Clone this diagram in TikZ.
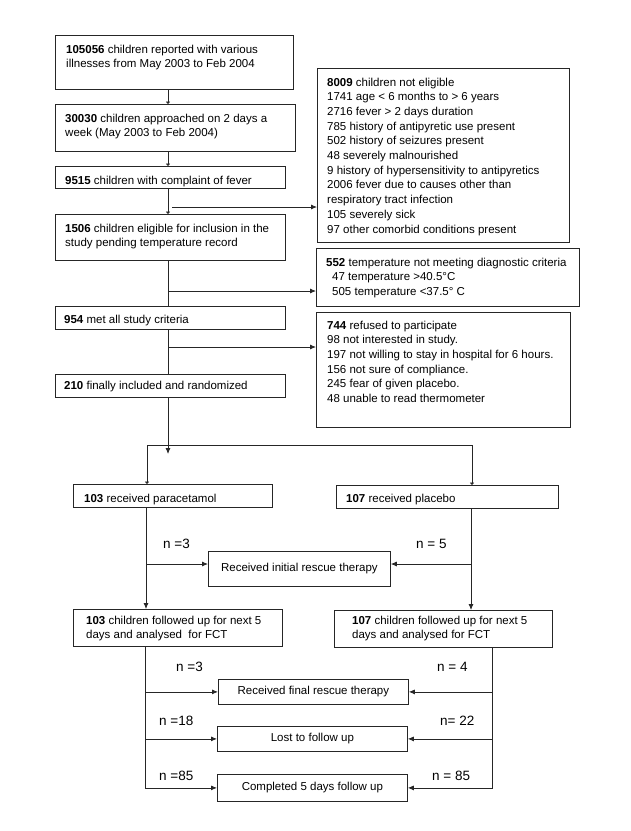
\documentclass[tikz,border=0pt]{standalone}
\usepackage{fontspec}
\setmainfont{Liberation Sans}
\usetikzlibrary{arrows.meta}
\begin{document}
\begin{tikzpicture}[x=1pt,y=-1pt,
  box/.style={draw=black!85, line width=0.8pt, inner sep=0pt, anchor=north west},
  cbox/.style={draw=black!85, line width=0.8pt, inner sep=0pt, anchor=north west, font=\fontsize{11.5}{14.7}\selectfont},
  txt/.style={inner sep=0pt, anchor=base west, align=left, font=\fontsize{11.5}{14.7}\selectfont},
  lab/.style={inner sep=0pt, anchor=base west, font=\fontsize{13.5}{16}\selectfont},
  ln/.style={draw=black!85, line width=0.8pt},
  tick/.style={ln, -{Latex[length=2.5pt,width=5pt]}},
  arr/.style={ln, -{Latex[length=6pt,width=5pt]}}]
\useasboundingbox (0,0) rectangle (631,831);
\fill[white] (0,0) rectangle (631,831);
% left column boxes
\node[box, minimum width=238, minimum height=54] (b1) at (55,35) {};
\node[box, minimum width=240, minimum height=47] (b2) at (55,104) {};
\node[box, minimum width=230, minimum height=22] (b3) at (55,166) {};
\node[box, minimum width=230, minimum height=46] (b4) at (55,214) {};
\node[box, minimum width=230, minimum height=23] (b5) at (55,306) {};
\node[box, minimum width=230, minimum height=23] (b6) at (55,374) {};
% right column boxes
\node[box, minimum width=252, minimum height=174] (ra) at (317,68) {};
\node[box, minimum width=263, minimum height=58] (rb) at (316,248) {};
\node[box, minimum width=254, minimum height=115] (rc) at (316,312) {};
% arms
\node[box, minimum width=199, minimum height=23] (P) at (73,484) {};
\node[box, minimum width=222, minimum height=23] (Q) at (336,485) {};
\node[cbox, minimum width=182, minimum height=35] (ri) at (208,551) {Received initial rescue therapy};
\node[box, minimum width=209, minimum height=37] (F1) at (73,609) {};
\node[box, minimum width=218, minimum height=37] (F2) at (334,610) {};
\node[cbox, minimum width=190, minimum height=25] (rf) at (218,679) {Received final rescue therapy};
\node[cbox, minimum width=190, minimum height=25] (rl) at (217,726) {Lost to follow up};
\node[cbox, minimum width=190, minimum height=27] (rd) at (217,774) {Completed 5 days follow up};
% texts (anchor = baseline of the last line)
\node[txt] (t1) at (66,67.7) {\textbf{105056} children reported with various\\illnesses from May 2003 to Feb 2004};
\node[txt] (t2) at (65,136.7) {\textbf{30030} children approached on 2 days a\\week (May 2003 to Feb 2004)};
\node[txt] (t3) at (65,184) {\textbf{9515} children with complaint of fever};
\node[txt] (t4) at (65,246.7) {\textbf{1506} children eligible for inclusion in the\\study pending temperature record};
\node[txt] (t5) at (64,323) {\textbf{954} met all study criteria};
\node[txt] (t6) at (64,389) {\textbf{210} finally included and randomized};
\node[txt] (ta) at (327,233) {\textbf{8009} children not eligible\\1741 age < 6 months to > 6 years\\2716 fever > 2 days duration\\785 history of antipyretic use present\\502 history of seizures present\\48 severely malnourished\\9 history of hypersensitivity to antipyretics\\2006 fever due to causes other than\\respiratory tract infection\\105 severely sick\\97 other comorbid conditions present};
\node[txt] (tb) at (326,295.4) {\textbf{552} temperature not meeting diagnostic criteria\\\hspace*{6pt}47 temperature >40.5°C\\\hspace*{6pt}505 temperature <37.5° C};
\node[txt] (tc) at (327,402.5) {\textbf{744} refused to participate\\98 not interested in study.\\197 not willing to stay in hospital for 6 hours.\\156 not sure of compliance.\\245 fear of given placebo.\\48 unable to read thermometer};
\node[txt] (tp) at (84,502) {\textbf{103} received paracetamol};
\node[txt] (tq) at (346,502) {\textbf{107} received placebo};
\node[txt] (tf1) at (86,638.7) {\textbf{103} children followed up for next 5\\days and analysed\ \ for FCT};
\node[txt] (tf2) at (352,638.7) {\textbf{107} children followed up for next 5\\days and analysed for FCT};
% labels
\node[lab] (n1) at (163,548) {n =3};
\node[lab] (n2) at (416,548) {n = 5};
\node[lab] (n3) at (176,671) {n =3};
\node[lab] (n4) at (437,671) {n = 4};
\node[lab] (n5) at (159,725) {n =18};
\node[lab] (n6) at (440,725) {n= 22};
\node[lab] (n7) at (159,780) {n =85};
\node[lab] (n8) at (432,780) {n = 85};
% trunk
\coordinate (T) at (168,0);
\draw[tick] (b1.south -| T) -- (b2.north -| T);
\draw[tick] (b2.south -| T) -- (b3.north -| T);
\draw[tick] (b3.south -| T) -- (b4.north -| T);
\coordinate (ca) at (172,207);
\draw[arr] (ca) -- (ca -| ra.west);
\draw[ln] (b4.south -| T) -- (b5.north -| T);
\coordinate (cb) at (168,291);
\draw[arr] (cb) -- (cb -| rb.west);
\draw[ln] (b5.south -| T) -- (b6.north -| T);
\coordinate (cc) at (168,347);
\draw[arr] (cc) -- (cc -| rc.west);
\coordinate (tend) at (168,454);
\draw[arr] (b6.south -| T) -- (tend);
% split
\coordinate (sL) at (147,445);
\coordinate (sR) at (472,445);
\draw[ln] (sL) -- (sR);
\draw[tick] (sL) -- (sL |- P.north);
\draw[tick] (sR) -- (sR |- Q.north);
% upper lanes
\coordinate (L1) at (146,0);
\coordinate (R1) at (471,0);
\draw[arr] (P.south -| L1) -- (F1.north -| L1);
\draw[arr] (Q.south -| R1) -- (F2.north -| R1);
\coordinate (ci) at (0,564);
\draw[arr] (ci -| L1) -- (ci -| ri.west);
\draw[arr] (ci -| R1) -- (ci -| ri.east);
% lower lanes
\coordinate (L2) at (145,0);
\coordinate (R2) at (492,0);
\draw[arr] (F1.south -| L2) -- (L2 |- rd.west) -- (rd.west);
\draw[arr] (L2 |- rf.west) -- (rf.west);
\draw[arr] (L2 |- rl.west) -- (rl.west);
\draw[arr] (F2.south -| R2) -- (R2 |- rd.east) -- (rd.east);
\draw[arr] (R2 |- rf.east) -- (rf.east);
\draw[arr] (R2 |- rl.east) -- (rl.east);
\end{tikzpicture}
\end{document}
